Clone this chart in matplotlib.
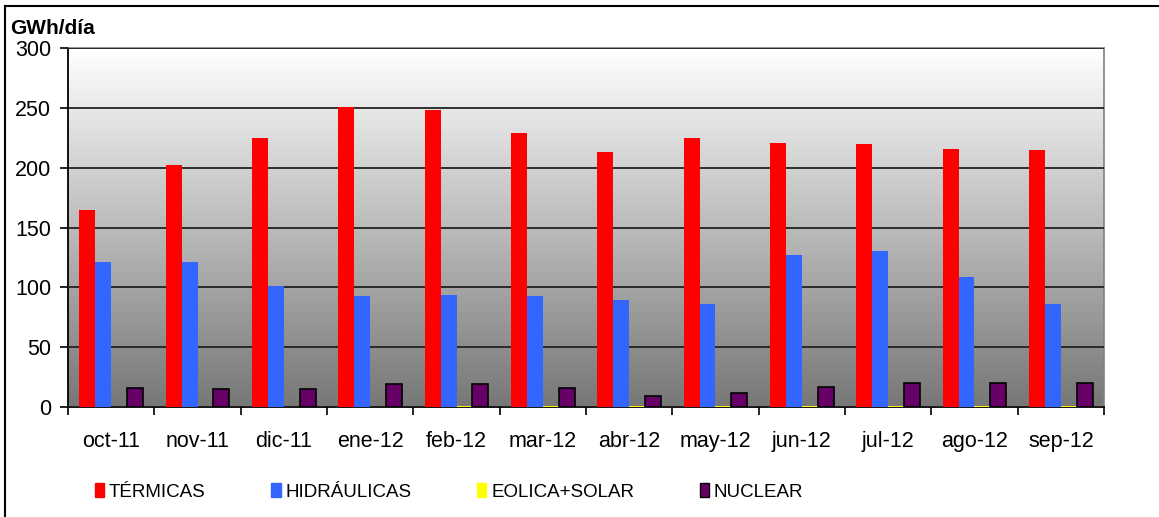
import matplotlib.pyplot as plt
import numpy as np
from matplotlib.patches import Patch
from matplotlib.lines import Line2D

plt.rcParams['font.family'] = ['Liberation Sans', 'DejaVu Sans']

meses = ['oct-11', 'nov-11', 'dic-11', 'ene-12', 'feb-12', 'mar-12',
         'abr-12', 'may-12', 'jun-12', 'jul-12', 'ago-12', 'sep-12']
termicas = [165, 202, 225, 251, 248, 229, 213, 225, 221, 220, 216, 215]
hidraulicas = [121, 121, 101, 93, 94, 93, 89, 86, 127, 130, 109, 86]
eolica_solar = [0, 0, 0, 0, 1, 1, 1, 1, 1, 1, 1, 1]
nuclear = [16, 15, 15, 19, 19, 16, 9, 12, 17, 20, 20, 20]

series = ['TÉRMICAS', 'HIDRÁULICAS', 'EOLICA+SOLAR', 'NUCLEAR']
colores = ['#FF0000', '#3366FF', '#FFFF00', '#660066']

fig = plt.figure(figsize=(11.59, 5.17), dpi=100)
ax = fig.add_axes([68/1159, 1 - 407/517, (1104 - 68)/1159, (407 - 48)/517])

# fondo degradado blanco -> gris
grad = np.linspace(0, 1, 256).reshape(-1, 1)
ax.imshow(grad, extent=[0, 1, 0, 1], transform=ax.transAxes, aspect='auto',
          cmap=plt.matplotlib.colors.LinearSegmentedColormap.from_list(
              'g', ['#777777', '#FFFFFF']), origin='lower', zorder=0)

x = np.arange(len(meses))
w = 16 / 86.4
datos = [termicas, hidraulicas, eolica_solar, nuclear]
for k, (d, c) in enumerate(zip(datos, colores)):
    if k == 3:
        ax.bar(x + (k - 1.5) * w, d, w, color=c, edgecolor='black', linewidth=1.2, zorder=3)
    else:
        ax.bar(x + (k - 1.5) * w, d, w, color=c, zorder=3)

ax.set_xlim(-0.5, len(meses) - 0.5)
ax.set_ylim(0, 300)
ax.set_yticks(range(0, 301, 50))
ax.yaxis.grid(True, color='#222222', linewidth=1.3, zorder=1)
ax.set_axisbelow(False)
ax.set_xticks(x)
ax.set_xticklabels(meses, fontsize=15.5)
ax.tick_params(axis='x', length=0, pad=17)
ax.set_xticks(np.arange(-0.5, len(meses)), minor=True)
ax.tick_params(axis='x', which='minor', length=6, width=1.2, direction='out')
ax.tick_params(axis='y', labelsize=15.5, length=6, width=1.2, direction='out', pad=6)
for s in ['top', 'right']:
    ax.spines[s].set_color('#808080')
    ax.spines[s].set_linewidth(1.2)
for s in ['left', 'bottom']:
    ax.spines[s].set_color('black')
    ax.spines[s].set_linewidth(1.3)

fig.text(10/1159, 1 - 28/517, 'GWh/día', fontsize=15, fontweight='bold', va='center')

# borde del gráfico
fig.add_artist(Line2D([5/1159, 5/1159], [0, 1 - 6/517], color='black', lw=1.5, transform=fig.transFigure))
fig.add_artist(Line2D([5/1159, 1], [1 - 6/517, 1 - 6/517], color='black', lw=1.5, transform=fig.transFigure))

handles = [Patch(facecolor=c, edgecolor=('black' if i == 3 else c), label=s)
           for i, (s, c) in enumerate(zip(series, colores))]
fig.legend(handles=handles, ncol=4, loc='center', bbox_to_anchor=(449/1159, 1 - 492/517),
           frameon=False, fontsize=13.5, handlelength=0.5, handleheight=0.7,
           handletextpad=0.25, columnspacing=3.5)

plt.savefig('out.png', dpi=100)
